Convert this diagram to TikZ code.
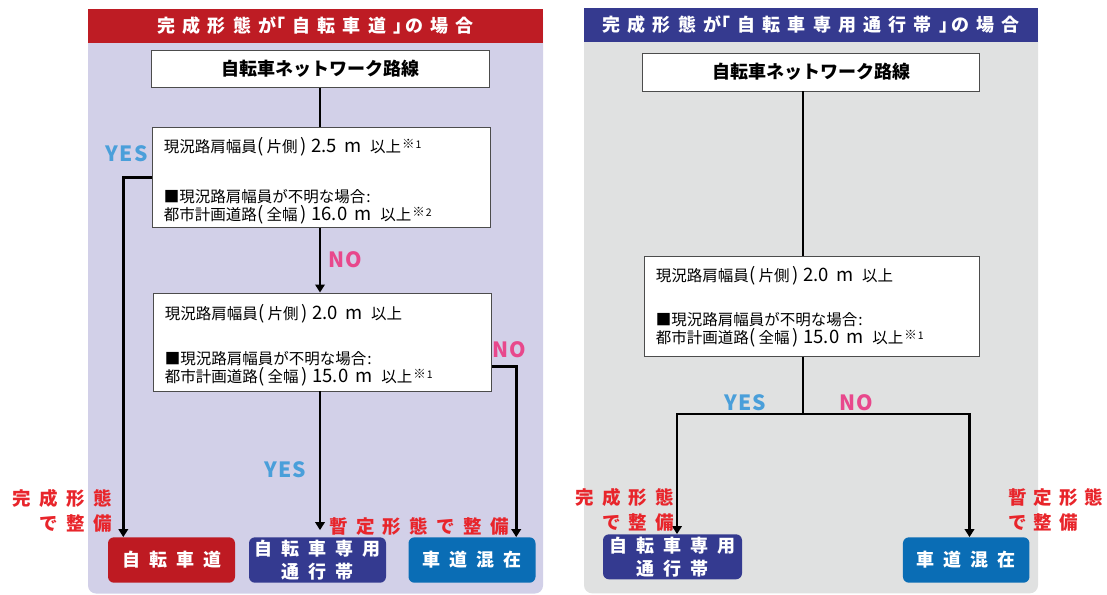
\documentclass[tikz,border=0pt]{standalone}
\usepackage{fontspec}
\setmainfont{Noto Sans CJK JP}
\usetikzlibrary{arrows.meta,calc}
\definecolor{ttlred}{HTML}{BE1C24}
\definecolor{ttlblue}{HTML}{353A8F}
\definecolor{lav}{HTML}{D2D0E8}
\definecolor{gbg}{HTML}{E0E1E1}
\definecolor{boxred}{HTML}{BE1A22}
\definecolor{boxblue}{HTML}{343A90}
\definecolor{boxteal}{HTML}{0A6DB5}
\definecolor{yescol}{HTML}{4A9FDA}
\definecolor{nocol}{HTML}{E8488C}
\definecolor{redtxt}{HTML}{E8252B}
\newcommand\lat[1]{{\fontsize{18.5}{18}\selectfont #1}}
\newcommand\kome[1]{\kern1pt\raisebox{4pt}{\fontsize{12.5}{10}\selectfont ※\kern1pt{\fontsize{10.5}{10}\selectfont #1}}}
\newcommand\condfont{\fontsize{15.5}{18}\selectfont}
\newcommand\ttlfont{\fontsize{18}{20}\selectfont\bfseries\addfontfeatures{LetterSpace=40}}
\newcommand\resfont{\fontsize{18}{23}\selectfont\bfseries\addfontfeatures{LetterSpace=50}}
\newcommand\notefont{\fontsize{18.5}{25}\selectfont\bfseries\addfontfeatures{LetterSpace=45}}
\newcommand\notefontb{\fontsize{18.5}{25}\selectfont\bfseries\addfontfeatures{LetterSpace=38}}
\newcommand\ynfont{\fontsize{21}{22}\selectfont\bfseries\addfontfeatures{LetterSpace=6}}
\newcommand\firstline[3][22pt]{\rule{0pt}{#1}現況路肩幅員\kern1pt\lat{(}\kern2.5pt片側\kern2.5pt\lat{)}\kern5pt\lat{#2}\kern7pt\lat{m}\kern9pt以上#3}
\newcommand\thirdline[2]{都市計画道路\kern1pt\lat{(}\kern2.5pt全幅\kern2.5pt\lat{)}\kern5pt\lat{#1}\kern7pt\lat{m}\kern9pt以上\kome{#2}}
\tikzset{
  titlebar/.style={inner sep=0pt, text=white, font=\ttlfont},
  netbox/.style={draw=black!70, line width=0.8pt, fill=white, inner sep=0pt, font=\fontsize{18}{20}\selectfont\bfseries},
  cond/.style={draw=black!70, line width=0.8pt, fill=white, align=left, anchor=north west, inner xsep=11.5pt, inner ysep=0pt, font=\condfont},
  res/.style={rounded corners=6pt, inner sep=0pt, text=white, font=\resfont, align=center},
  conn/.style={line width=2.6pt},
  arr/.style={conn, -{Triangle[length=8pt,width=9.5pt]}},
  yes/.style={inner sep=0pt, text=yescol, font=\ynfont},
  no/.style={inner sep=0pt, text=nocol, font=\ynfont},
  note/.style={inner sep=0pt, text=redtxt, font=\notefont}
}
\begin{document}
\begin{tikzpicture}[x=1pt,y=-1pt]
\useasboundingbox (0,0) rectangle (1107,594);
% backgrounds
\fill[lav, rounded corners=8pt] (88,9.3) rectangle (543,593.5);
\fill[gbg, rounded corners=8pt] (584,8.3) rectangle (1038,593.3);
% titles
\node[titlebar, fill=ttlred, minimum width=455pt, minimum height=33.4pt] (ttlL) at (315.5,26) {完成形態が\kern-9pt「自転車道」\kern-6ptの場合};
\node[titlebar, fill=ttlblue, minimum width=454pt, minimum height=33.4pt] (ttlR) at (811,25) {完成形態が\kern-9pt「自転車専用通行帯」\kern-6ptの場合};
% left panel
\node[netbox, minimum width=338pt, minimum height=36.6pt] (n1L) at (320,69) {自転車ネットワーク路線};
\node[cond, text width=315pt, minimum height=100pt] (c1L) at (152,127.3) {\firstline{2.5}{\kome{1}}\\[32pt]
■現況路肩幅員が不明な場合\kern1pt:\\
\thirdline{16.0}{2}};
\node[cond, text width=315pt, minimum height=98pt] (c2L) at (153,292.5) {\firstline{2.0}{}\\[26.5pt]
■現況路肩幅員が不明な場合\kern1pt:\\
\thirdline{15.0}{1}};
\node[res, fill=boxred, minimum width=127pt, minimum height=45.4pt] (rL) at (171.5,560) {自転車道};
\node[res, fill=boxblue, minimum width=137pt, minimum height=45.4pt] (bL) at (317.5,560) {自転車専用\\通行帯};
\node[res, fill=boxteal, minimum width=127pt, minimum height=45.4pt] (tL) at (472,560) {車道混在};
\draw[conn] (n1L.south) -- (n1L.south |- c1L.north);
\draw[arr] (n1L.south |- c1L.south) -- (n1L.south |- c2L.north);
\draw[arr, shorten >=7pt] (n1L.south |- c2L.south) -- (n1L.south |- bL.north);
\draw[arr] (c1L.west) -| ($(rL.north west)+(15.5,0)$);
\draw[arr] ($(c2L.east)+(0,24.8)$) -| ($(tL.north east)+(-19.5,0)$);
\node[yes] (yes1) at (126.5,154) {YES};
\node[no] (no1) at (345,260) {NO};
\node[no] (no2) at (509.5,350) {NO};
\node[yes] (yes2) at (285,470) {YES};
\node[note, align=right, anchor=east] (fL) at (112,510.5) {完成形態\\で整備};
\node[note] (zL) at (419,526) {暫定形態で整備};
% right panel
\node[netbox, minimum width=336.6pt, minimum height=37.7pt] (n1R) at (811,72.2) {自転車ネットワーク路線};
\node[cond, text width=312pt, minimum height=100pt] (cR) at (644,256) {\firstline[16pt]{2.0}{}\\[26.5pt]
■現況路肩幅員が不明な場合\kern1pt:\\
\thirdline{15.0}{1}};
\node[res, fill=boxblue, minimum width=139pt, minimum height=45pt] (bR) at (672.5,556.8) {自転車専用\\通行帯};
\node[res, fill=boxteal, minimum width=126.5pt, minimum height=45.4pt] (tR) at (966.2,560) {車道混在};
\coordinate (jR) at (803,414);
\draw[conn] (n1R.south -| jR) -- (cR.north -| jR);
\draw[conn] (cR.south -| jR) -- (jR);
\draw[arr] (jR) -| ($(bR.north)+(4.5,0)$);
\draw[arr] (jR) -| ($(tR.north)+(3.3,0)$);
\node[yes] (yes3) at (745,402.7) {YES};
\node[no] (no3) at (856,402.7) {NO};
\node[note, align=right, anchor=east] (fR) at (674.5,509.5) {完成形態\\で整備};
\node[note, font=\notefontb, align=left, anchor=west] (zR) at (1008,509.5) {暫定形態\\で整備};
\end{tikzpicture}
\end{document}
